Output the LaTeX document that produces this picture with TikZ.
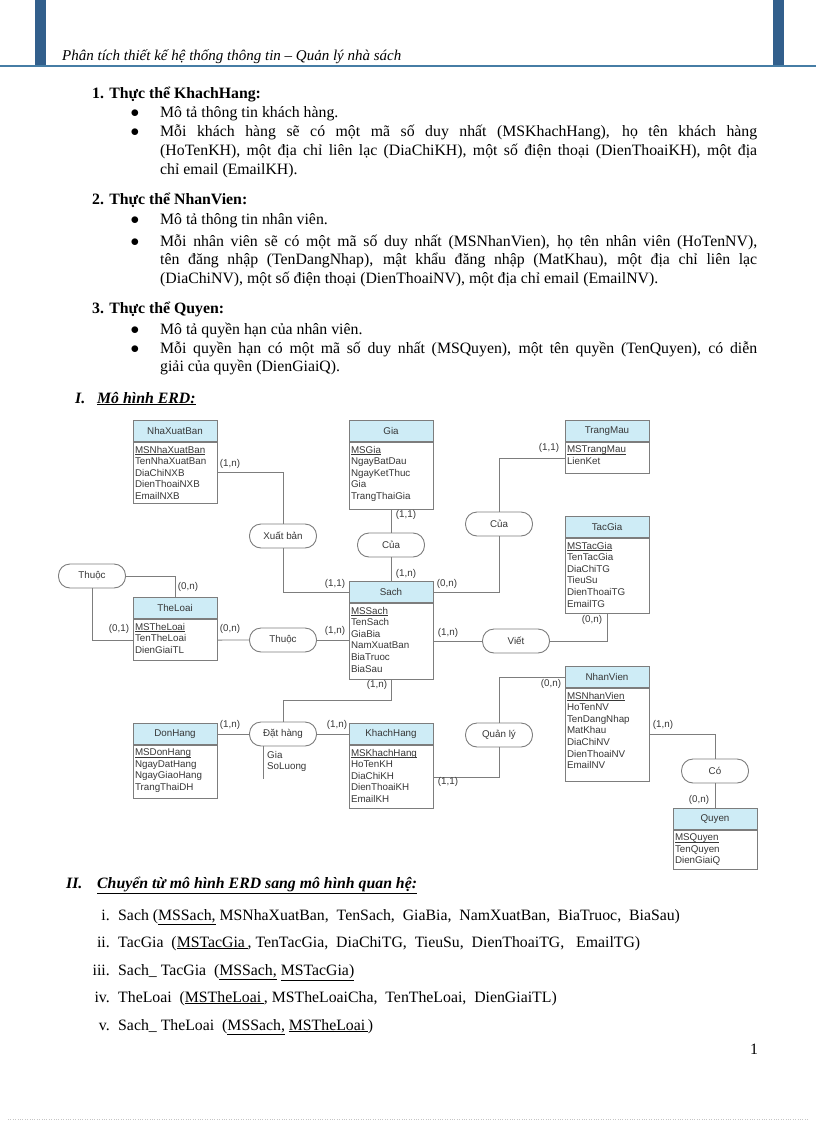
\documentclass[tikz,border=0pt]{standalone}
\usepackage{fontspec}
\setmainfont{Liberation Serif}
\newfontfamily\erdsans{Liberation Sans}
\usetikzlibrary{positioning}

\definecolor{erdhead}{RGB}{206,236,246}
\definecolor{erdline}{RGB}{125,125,125}
\definecolor{erdtext}{RGB}{55,55,55}
\definecolor{barblue}{RGB}{50,95,140}
\definecolor{barline}{RGB}{70,125,165}

\tolerance=9999
\newcommand\bodyfont{\fontsize{15.8}{18.6}\selectfont}
\newcommand\headfont{\fontsize{15}{17}\selectfont\itshape}
\newcommand\erdfont{\erdsans\fontsize{9.8}{11.6}\selectfont}
\newcommand\gap[1]{\rule[-#1pt]{0pt}{0pt}}
\newsavebox\keybox
\newcommand\keyattr[1]{\sbox\keybox{#1}\rlap{\rule[-1.6pt]{\wd\keybox}{0.6pt}}\usebox\keybox}

\tikzset{
  bodytext/.style={anchor=base west, inner sep=0pt, font=\bodyfont},
  para/.style={bodytext, text width=597pt, align=justify},
  enthead/.style={draw=erdline, fill=erdhead, line width=0.9pt, minimum width=84pt,
    minimum height=21pt, inner sep=0pt, font=\erdfont, text=erdtext},
  entbody/.style={draw=erdline, fill=white, line width=0.9pt, text width=80pt,
    inner xsep=2pt, inner ysep=3.5pt, align=left, font=\erdfont, text=erdtext},
  rel/.style={draw=erdline, fill=white, line width=0.9pt, rounded corners=11.5pt,
    minimum width=67pt, minimum height=24pt, inner sep=0pt, font=\erdfont, text=erdtext},
  card/.style={font=\erdfont, text=erdtext, inner sep=0pt},
  link/.style={draw=erdline, line width=0.9pt},
}

\begin{document}
\begin{tikzpicture}[x=1pt, y=-1pt, font=\bodyfont]
\useasboundingbox (0,0) rectangle (816,1123);

% Page header
\fill[barblue] (35,0) rectangle (46,66);
\fill[barblue] (773,0) rectangle (784,66);
\draw[barline, line width=1.3pt] (0,66) -- (816,66);
\node[bodytext, font=\headfont] (head) at (62,61) {Phân tích thiết kế hệ thống thông tin – Quản lý nhà sách};

% Entity descriptions
\node[bodytext, font=\bodyfont\bfseries] (t1) at (92,99) {1. Thực thể KhachHang:};
\node[para] (p1a) at (160,118) {Mô tả thông tin khách hàng.};
\node[para] (p1b) at (160,137) {Mỗi khách hàng sẽ có một mã số duy nhất (MSKhachHang), họ tên khách hàng\linebreak
  (HoTenKH), một địa chỉ liên lạc (DiaChiKH), một số điện thoại (DienThoaiKH), một địa\linebreak
  chỉ email (EmailKH).};
\node[bodytext, font=\bodyfont\bfseries] (t2) at (92,205) {2. Thực thể NhanVien:};
\node[para] (p2a) at (160,225) {Mô tả thông tin nhân viên.};
\node[para] (p2b) at (160,246) {Mỗi nhân viên sẽ có một mã số duy nhất (MSNhanVien), họ tên nhân viên (HoTenNV),\linebreak
  tên đăng nhập (TenDangNhap), mật khẩu đăng nhập (MatKhau), một địa chỉ liên lạc\linebreak
  (DiaChiNV), một số điện thoại (DienThoaiNV), một địa chỉ email (EmailNV).};
\node[bodytext, font=\bodyfont\bfseries] (t3) at (92,313) {3. Thực thể Quyen:};
\node[para] (p3a) at (160,334) {Mô tả quyền hạn của nhân viên.};
\node[para] (p3b) at (160,353) {Mỗi quyền hạn có một mã số duy nhất (MSQuyen), một tên quyền (TenQuyen), có diễn\linebreak
  giải của quyền (DienGiaiQ).};
\foreach \y [count=\i] in {118,137,225,246,334,353}
  \node[bodytext, anchor=base, font=\fontsize{18}{18}\selectfont] (bul\i) at (135,\y) {$\bullet$};

% Section I
\node[bodytext, font=\bodyfont\bfseries\itshape] (s1num) at (75,403) {I.};
\node[bodytext, font=\bodyfont\bfseries\itshape] (s1) at (97,403) {\underline{Mô hình ERD:}};

% Entities
\node[enthead] (nxbH) at (175,431) {NhaXuatBan};
\node[entbody, below=0pt of nxbH] (nxbB) {\keyattr{MSNhaXuatBan}\\TenNhaXuatBan\\DiaChiNXB\\DienThoaiNXB\\EmailNXB};
\node[enthead] (giaH) at (391,431) {Gia};
\node[entbody, below=0pt of giaH] (giaB) {\keyattr{MSGia}\\NgayBatDau\\NgayKetThuc\\Gia\\TrangThaiGia\gap{7}};
\node[enthead] (tmH) at (607,431) {TrangMau};
\node[entbody, below=0pt of tmH] (tmB) {\keyattr{MSTrangMau}\\LienKet\gap{6}};
\node[enthead] (tgH) at (607,527) {TacGia};
\node[entbody, below=0pt of tgH] (tgB) {\keyattr{MSTacGia}\\TenTacGia\\DiaChiTG\\TieuSu\\DienThoaiTG\\EmailTG\gap{3}};
\node[enthead] (sachH) at (391,592) {Sach};
\node[entbody, below=0pt of sachH] (sachB) {\keyattr{MSSach}\\TenSach\\GiaBia\\NamXuatBan\\BiaTruoc\\BiaSau\gap{4}};
\node[enthead] (tlH) at (175,608) {TheLoai};
\node[entbody, below=0pt of tlH] (tlB) {\keyattr{MSTheLoai}\\TenTheLoai\\DienGiaiTL\gap{4}};
\node[enthead] (dhH) at (175,734) {DonHang};
\node[entbody, below=0pt of dhH] (dhB) {\keyattr{MSDonHang}\\NgayDatHang\\NgayGiaoHang\\TrangThaiDH\gap{4}};
\node[enthead] (khH) at (391,734) {KhachHang};
\node[entbody, below=0pt of khH] (khB) {\keyattr{MSKhachHang}\\HoTenKH\\DiaChiKH\\DienThoaiKH\\EmailKH\gap{3}};
\node[enthead] (nvH) at (607,677) {NhanVien};
\node[entbody, below=0pt of nvH] (nvB) {\keyattr{MSNhanVien}\\HoTenNV\\TenDangNhap\\MatKhau\\DiaChiNV\\DienThoaiNV\\EmailNV\gap{9}};
\node[enthead] (qH) at (715,819) {Quyen};
\node[entbody, below=0pt of qH] (qB) {\keyattr{MSQuyen}\\TenQuyen\\DienGiaiQ};

% Relationships
\node[rel] (xb) at (283,536) {Xuất bản};
\node[rel] (cuaGia) at (391,545) {Của};
\node[rel] (cuaTM) at (499,524) {Của};
\node[rel] (thuocCha) at (92,576) {Thuộc};
\node[rel] (thuocSach) at (283,640) {Thuộc};
\node[rel] (viet) at (516,641) {Viết};
\node[rel] (dat) at (283,734) {Đặt hàng};
\node[rel] (ql) at (499,735) {Quản lý};
\node[rel] (co) at (715,771) {Có};

% Connectors
\draw[link] (nxbB.east) -| (xb.north);
\draw[link] (xb.south) |- (sachH.west);
\draw[link] (giaB.south) -- (cuaGia.north);
\draw[link] (cuaGia.south) -- (sachH.north);
\draw[link] (sachH.east) -| (cuaTM.south);
\draw[link] (cuaTM.north) |- (tmB.west);
\draw[link] (thuocCha.east) -| (tlH.north);
\draw[link] (thuocCha.south) |- (tlB.west);
\draw[link] (tlB.east) -- (thuocSach.west);
\draw[link] (thuocSach.east) -- (thuocSach.east -| sachB.west);
\draw[link] (viet.west -| sachB.east) -- (viet.west);
\draw[link] (viet.east) -| (tgB.south);
\draw[link] (sachB.south) -- ++(0,20) -| (dat.north);
\draw[link] (dhH.east) -- (dat.west);
\draw[link] (dat.east) -- (khH.west);
\draw[link] (khB.east) -| (ql.south);
\draw[link] (ql.north) |- (nvH.west);
\draw[link] (nvB.east) -| (co.north);
\draw[link] (co.south) -- (qH.north);

% Attributes of Dat hang
\draw[link] ([xshift=-20pt]dat.south) -- ++(0,33);
\node[card, anchor=north west, align=left] (datAttr) at (267,751) {Gia\\SoLuong};

% Cardinalities
\foreach \x/\y/\t [count=\i] in {230/464/{(1,n)}, 335/584/{(1,1)}, 406/515/{(1,1)}, 406/574/{(1,n)},
    447/584/{(0,n)}, 549/448/{(1,1)}, 188/587/{(0,n)}, 119/629/{(0,1)}, 230/629/{(0,n)},
    335/631/{(1,n)}, 448/633/{(1,n)}, 592/620/{(0,n)}, 377/685/{(1,n)}, 230/725/{(1,n)},
    337/725/{(1,n)}, 448/782/{(1,1)}, 551/684/{(0,n)}, 663/725/{(1,n)}, 699/800/{(0,n)}}
  \node[card] (card\i) at (\x,\y) {\t};

% Section II
\node[bodytext, font=\bodyfont\bfseries\itshape] (s2num) at (66,888) {II.};
\node[bodytext, font=\bodyfont\bfseries\itshape] (s2) at (97,888) {\underline{Chuyển từ mô hình ERD sang mô hình quan hệ:}};
\foreach \y/\n [count=\i] in {920/i., 947/ii., 975/iii., 1002/iv., 1030/v.}
  \node[bodytext, anchor=base east] (num\i) at (110,\y) {\n};
\node[bodytext] (r1) at (118,920) {Sach (\underline{MSSach,} MSNhaXuatBan,\ \ TenSach,\ \ GiaBia,\ \ NamXuatBan,\ \ BiaTruoc,\ \ BiaSau)};
\node[bodytext] (r2) at (118,947) {TacGia\ \ (\underline{MSTacGia\,}, TenTacGia,\ \ DiaChiTG,\ \ TieuSu,\ \ DienThoaiTG,\ \ \ EmailTG)};
\node[bodytext] (r3) at (118,975) {Sach\_ TacGia\ \ (\underline{MSSach,} \underline{MSTacGia)}};
\node[bodytext] (r4) at (118,1002) {TheLoai\ \ (\underline{MSTheLoai\,}, MSTheLoaiCha,\ \ TenTheLoai,\ \ DienGiaiTL)};
\node[bodytext] (r5) at (118,1030) {Sach\_ TheLoai\ \ (\underline{MSSach,} \underline{MSTheLoai\,})};

% Page number and footer
\node[bodytext] (pnum) at (750,1054) {1};
\draw[gray!45, dotted] (8,1119) -- (808,1119);
\end{tikzpicture}
\end{document}
